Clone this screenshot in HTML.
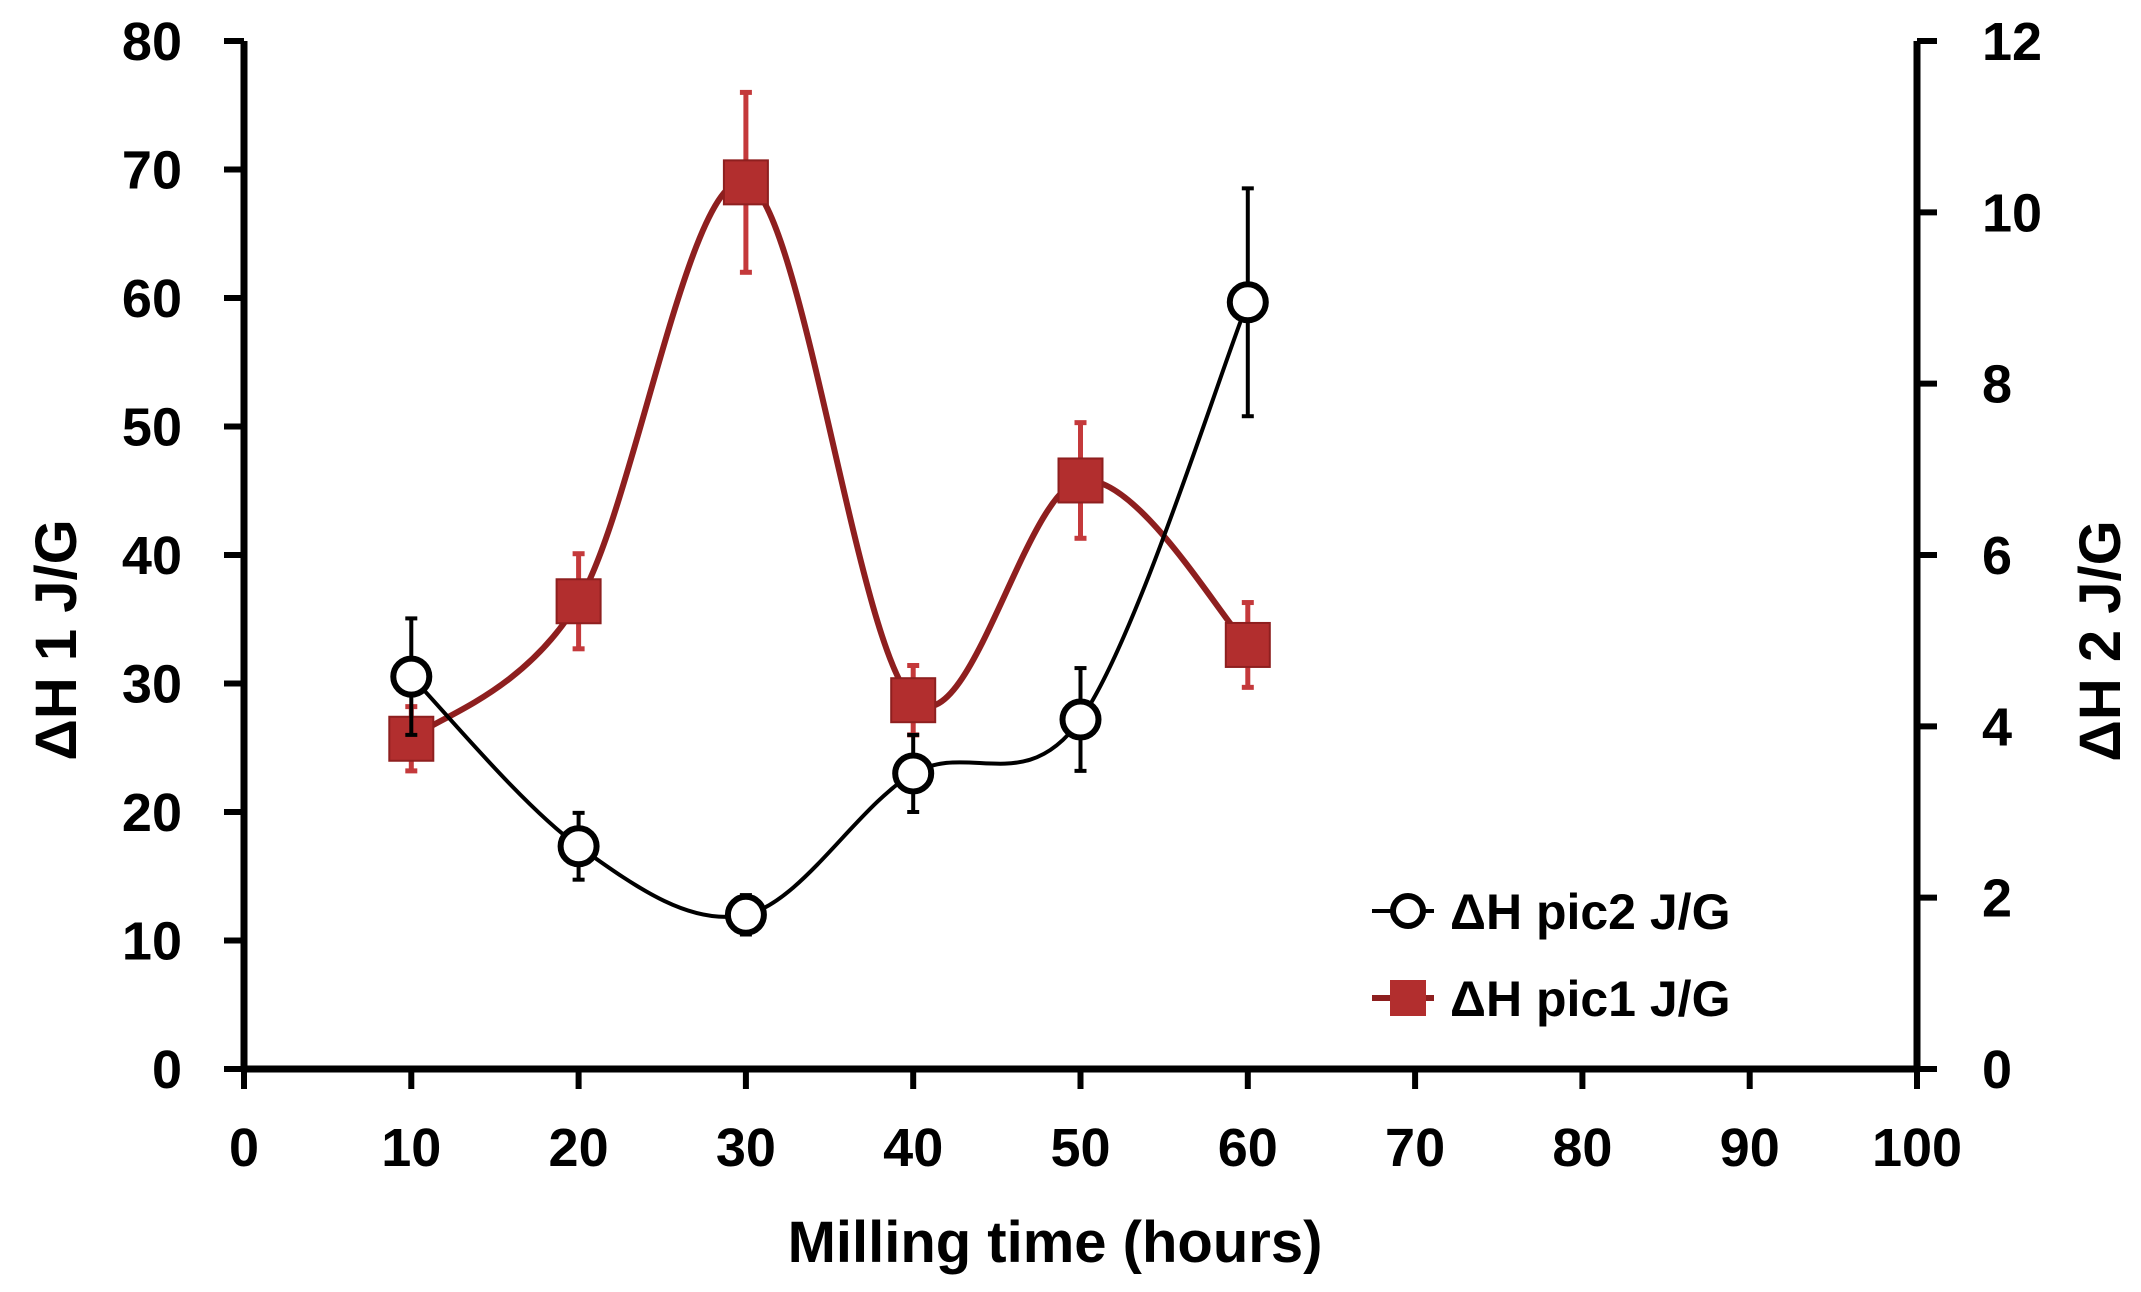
<!DOCTYPE html>
<html><head><meta charset="utf-8"><style>
html,body{margin:0;padding:0;background:#fff}
svg{display:block;font-family:"Liberation Sans",sans-serif;font-weight:bold}
</style></head><body>
<svg id="chart" width="2141" height="1292" viewBox="0 0 2141 1292"></svg>
<script>
const categories=[10,20,30,40,50,60];
const pic1Values=[25.7,36.4,69,28.7,45.8,33];
const pic1Err=[2.5,3.7,7,2.7,4.5,3.3];
const pic2Values=[4.58,2.6,1.8,3.45,4.08,8.95];
const pic2Err=[0.68,0.39,0.23,0.45,0.6,1.33];
const xTicks=[0,10,20,30,40,50,60,70,80,90,100];
const yLeftTicks=[0,10,20,30,40,50,60,70,80];
const yRightTicks=[0,2,4,6,8,10,12];

const svg=document.getElementById('chart');
const NS='http://www.w3.org/2000/svg';
const X0=244,X1=1917,Y0=1069,Y1=41;
const sx=v=>X0+(v/100)*(X1-X0);
const syL=v=>Y0-(v/80)*(Y0-Y1);
const syR=v=>Y0-(v/12)*(Y0-Y1);
function mk(tag,attrs,parent){const e=document.createElementNS(NS,tag);for(const k in attrs)e.setAttribute(k,attrs[k]);(parent||svg).appendChild(e);return e;}
function txt(s,attrs,parent){const e=mk('text',attrs,parent);e.textContent=s;return e;}

const axes=mk('g',{});


mk('line',{x1:X0-3,y1:Y0,x2:X1+3,y2:Y0,stroke:'#000','stroke-width':7},axes);
mk('line',{x1:X0,y1:Y0,x2:X0,y2:Y1,stroke:'#000','stroke-width':7},axes);
mk('line',{x1:X1,y1:Y0,x2:X1,y2:Y1,stroke:'#000','stroke-width':7},axes);
xTicks.forEach(t=>{
  mk('line',{x1:sx(t),y1:Y0,x2:sx(t),y2:Y0+20,stroke:'#000','stroke-width':6},axes);
  const l=txt(String(t),{x:sx(t),y:1166,'font-size':54,'text-anchor':'middle'},axes);
  
  
});
yLeftTicks.forEach(t=>{
  mk('line',{x1:X0-20,y1:syL(t),x2:X0,y2:syL(t),stroke:'#000','stroke-width':6},axes);
  const l=txt(String(t),{x:182,y:syL(t)+19,'font-size':54,'text-anchor':'end'},axes);
  
  
});
yRightTicks.forEach(t=>{
  mk('line',{x1:X1,y1:syR(t),x2:X1+20,y2:syR(t),stroke:'#000','stroke-width':6},axes);
  const l=txt(String(t),{x:1982,y:syR(t)+19,'font-size':54,'text-anchor':'start'},axes);
  
  
});
const xt=txt('Milling time (hours)',{x:1055,y:1262,'font-size':58,'text-anchor':'middle'});


const yl=txt('ΔH 1 J/G',{x:0,y:0,'font-size':58,'text-anchor':'middle',transform:'translate(76,640) rotate(-90)'});


const yr=txt('ΔH 2 J/G',{x:0,y:0,'font-size':58,'text-anchor':'middle',transform:'translate(2120,641) rotate(-90)'});



function smooth(pts){
  let d='M'+pts[0][0]+','+pts[0][1];
  for(let i=0;i<pts.length-1;i++){
    const p0=pts[i-1]||pts[i],p1=pts[i],p2=pts[i+1],p3=pts[i+2]||p2;
    const t=1/6;
    d+=' C'+(p1[0]+(p2[0]-p0[0])*t)+','+(p1[1]+(p2[1]-p0[1])*t)+' '+(p2[0]-(p3[0]-p1[0])*t)+','+(p2[1]-(p3[1]-p1[1])*t)+' '+p2[0]+','+p2[1];
  }
  return d;
}

const g1=mk('g',{});


const p1=categories.map((c,i)=>[sx(c),syL(pic1Values[i])]);
mk('path',{d:smooth(p1),fill:'none',stroke:'#8e1f1f','stroke-width':6},g1);
categories.forEach((c,i)=>{
  const x=sx(c),yt=syL(pic1Values[i]+pic1Err[i]),yb=syL(pic1Values[i]-pic1Err[i]);
  const eb=mk('g',{stroke:'#c4393b','stroke-width':5},g1);
  
  
  mk('line',{x1:x,y1:yt,x2:x,y2:yb},eb);
  mk('line',{x1:x-6,y1:yt,x2:x+6,y2:yt},eb);
  mk('line',{x1:x-6,y1:yb,x2:x+6,y2:yb},eb);
});
categories.forEach((c,i)=>{
  const r=mk('rect',{x:sx(c)-22,y:syL(pic1Values[i])-22,width:44,height:44,fill:'#b22e2e',stroke:'#8e1f1f','stroke-width':2},g1);
  
  
});

const g2=mk('g',{});


const p2=categories.map((c,i)=>[sx(c),syR(pic2Values[i])]);
mk('path',{d:smooth(p2),fill:'none',stroke:'#000','stroke-width':4},g2);
categories.forEach((c,i)=>{
  const x=sx(c),yt=syR(pic2Values[i]+pic2Err[i]),yb=syR(pic2Values[i]-pic2Err[i]);
  const eb=mk('g',{stroke:'#000','stroke-width':4},g2);
  
  
  mk('line',{x1:x,y1:yt,x2:x,y2:yb},eb);
  mk('line',{x1:x-6,y1:yt,x2:x+6,y2:yt},eb);
  mk('line',{x1:x-6,y1:yb,x2:x+6,y2:yb},eb);
});
categories.forEach((c,i)=>{
  const ci=mk('circle',{cx:sx(c),cy:syR(pic2Values[i]),r:18,fill:'#fff',stroke:'#000','stroke-width':6},g2);
  
  
});

const lg=mk('g',{});


const le1=mk('g',{},lg);


mk('line',{x1:1372,y1:911,x2:1434,y2:911,stroke:'#000','stroke-width':4},le1);
mk('circle',{cx:1408,cy:911,r:15,fill:'#fff',stroke:'#000','stroke-width':6},le1);
txt('ΔH pic2 J/G',{x:1450,y:929,'font-size':50},le1);
const le2=mk('g',{},lg);


mk('line',{x1:1372,y1:998,x2:1434,y2:998,stroke:'#8e1f1f','stroke-width':6},le2);
mk('rect',{x:1390,y:980,width:36,height:36,fill:'#b22e2e'},le2);
txt('ΔH pic1 J/G',{x:1450,y:1016,'font-size':50},le2);
</script>
</body></html>
